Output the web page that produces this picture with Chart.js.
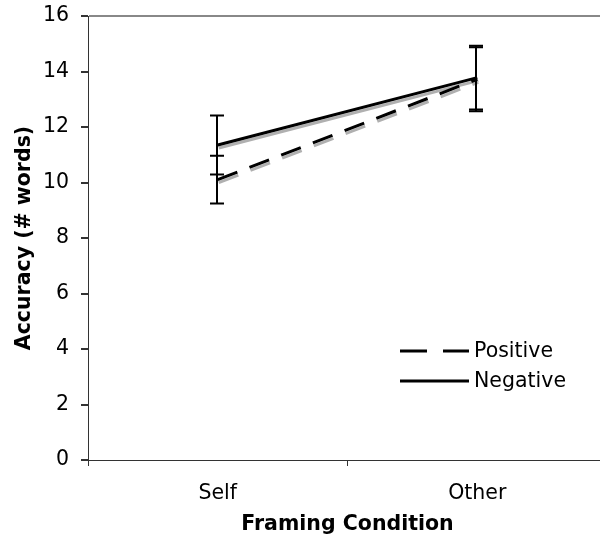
<!DOCTYPE html>
<html>
<head>
<meta charset="utf-8">
<script src="https://cdn.jsdelivr.net/npm/chart.js@4/dist/chart.umd.min.js"></script>
<style>
  html, body { margin: 0; padding: 0; background: #fff; overflow: hidden; }
  #wrap { width: 610px; height: 543px; }
</style>
</head>
<body>
<div id="wrap"><canvas id="c"></canvas></div>
<script>
const categories = ['Self', 'Other'];
const positiveMeans = [10.1, 13.72];
const positiveErr = [0.86, 1.15];
const negativeMeans = [11.35, 13.78];
const negativeErr = [1.06, 1.15];
const yTicks = [0, 2, 4, 6, 8, 10, 12, 14, 16];

const FONT = '"DejaVu Sans", Verdana, sans-serif';
const FS = 20.5;

// gray drop shadow under each series line
const shadowPlugin = {
  id: 'lineShadow',
  beforeDatasetDraw(chart) {
    const ctx = chart.ctx;
    ctx.save();
    ctx.shadowColor = '#b0b0b0';
    ctx.shadowOffsetX = 1;
    ctx.shadowOffsetY = 3;
    ctx.shadowBlur = 0;
  },
  afterDatasetDraw(chart) {
    chart.ctx.restore();
  }
};

// vertical error bars with caps
const errorBarPlugin = {
  id: 'errorBars',
  afterDatasetsDraw(chart) {
    const ctx = chart.ctx;
    const x = chart.scales.x, y = chart.scales.y;
    const sets = [[positiveMeans, positiveErr], [negativeMeans, negativeErr]];
    ctx.save();
    ctx.strokeStyle = '#000';
    ctx.lineWidth = 2;
    sets.forEach(([m, e]) => {
      m.forEach((v, i) => {
        const px = Math.round(x.getPixelForValue(i)) - 1;
        const top = y.getPixelForValue(v + e[i]);
        const bot = y.getPixelForValue(v - e[i]);
        ctx.beginPath();
        ctx.moveTo(px, top); ctx.lineTo(px, bot);
        ctx.moveTo(px - 7, top); ctx.lineTo(px + 7, top);
        ctx.moveTo(px - 7, bot); ctx.lineTo(px + 7, bot);
        ctx.stroke();
      });
    });
    ctx.restore();
  }
};

// legend placed inside the plot area
const innerLegend = {
  id: 'innerLegend',
  afterDraw(chart) {
    const ctx = chart.ctx;
    const items = [
      { label: 'Positive', dash: [27, 16] },
      { label: 'Negative', dash: [] }
    ];
    ctx.save();
    ctx.font = FS + 'px ' + FONT;
    ctx.textBaseline = 'middle';
    ctx.fillStyle = '#000';
    items.forEach((it, k) => {
      const yy = 351 + k * 30;
      ctx.strokeStyle = '#000';
      ctx.lineWidth = 3;
      ctx.setLineDash(it.dash);
      ctx.beginPath();
      ctx.moveTo(400, yy); ctx.lineTo(469, yy);
      ctx.stroke();
      ctx.setLineDash([]);
      ctx.fillText(it.label, 474, yy + 1);
    });
    ctx.restore();
  }
};

new Chart(document.getElementById('c'), {
  type: 'line',
  data: {
    labels: categories,
    datasets: [
      {
        label: 'Positive',
        data: positiveMeans,
        borderColor: '#000',
        borderWidth: 3,
        borderDash: [21, 13],
        pointRadius: 0,
        tension: 0,
        fill: false
      },
      {
        label: 'Negative',
        data: negativeMeans,
        borderColor: '#000',
        borderWidth: 3,
        pointRadius: 0,
        tension: 0,
        fill: false
      }
    ]
  },
  options: {
    responsive: true,
    maintainAspectRatio: false,
    animation: false,
    layout: { padding: { top: 16, right: 3, bottom: 0, left: 0 } },
    plugins: {
      legend: { display: false },
      tooltip: { enabled: false }
    },
    scales: {
      x: {
        type: 'category',
        offset: true,
        grid: {
          offset: true,
          drawOnChartArea: false,
          color: '#333',
          tickColor: '#333',
          tickLength: 6
        },
        border: { color: '#333', width: 1 },
        ticks: {
          color: '#000',
          font: { family: FONT, size: FS },
          padding: 15
        },
        title: {
          display: true,
          text: 'Framing Condition',
          color: '#000',
          font: { family: FONT, size: FS, weight: 'bold' },
          padding: { top: 6, bottom: 6 }
        },
        afterFit(s) { s.height = 83; s.paddingLeft = 0; s.paddingRight = 0; }
      },
      y: {
        min: 0,
        max: 16,
        afterBuildTicks(s) { s.ticks = yTicks.map(v => ({ value: v })); },
        grid: {
          color: ctx => (ctx.tick && ctx.tick.value === 16 ? '#888' : 'rgba(0,0,0,0)'),
          lineWidth: 2,
          tickColor: '#333',
          tickLength: 7
        },
        border: { color: '#333', width: 1 },
        ticks: {
          color: '#000',
          font: { family: FONT, size: FS },
          padding: 12
        },
        title: {
          display: true,
          text: 'Accuracy (# words)',
          color: '#000',
          font: { family: FONT, size: FS, weight: 'bold' },
          padding: { top: 12, bottom: 0 }
        },
        afterFit(s) { s.width = 88; s.paddingTop = 0; s.paddingBottom = 0; }
      }
    }
  },
  plugins: [shadowPlugin, errorBarPlugin, innerLegend]
});
</script>
</body>
</html>
